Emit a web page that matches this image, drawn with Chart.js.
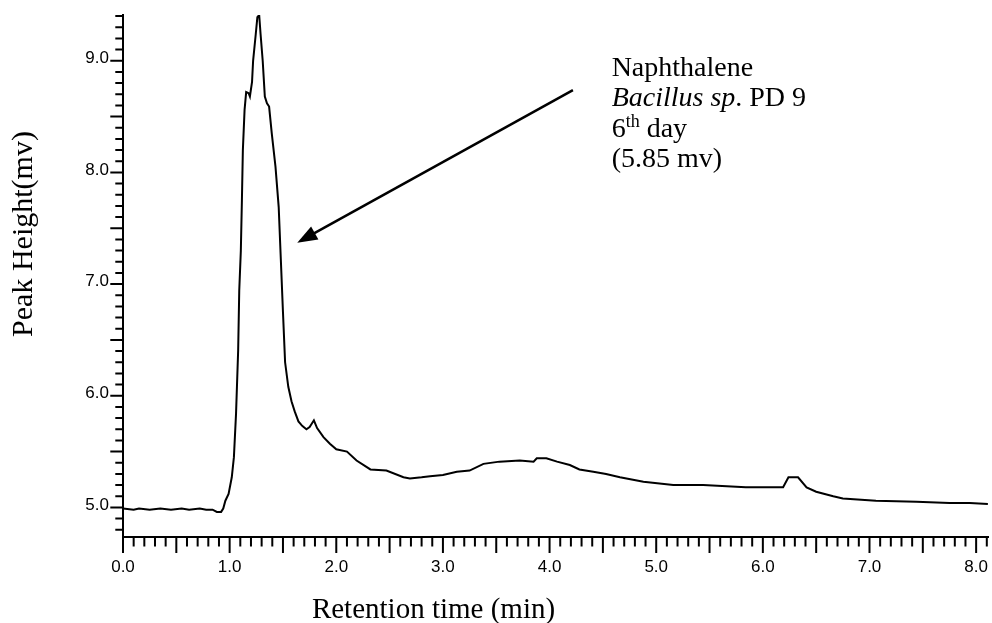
<!DOCTYPE html>
<html>
<head>
<meta charset="utf-8">
<script src="https://cdn.jsdelivr.net/npm/chart.js@4.4.1/dist/chart.umd.min.js"></script>
<style>
html,body{margin:0;padding:0;background:#fff;}
canvas{display:block;}
</style>
</head>
<body>
<canvas id="c" width="992" height="623"></canvas>
<script>
// ---- data ----
const retentionTime = [
  0.00, 0.10, 0.15, 0.25, 0.35, 0.45, 0.55, 0.62, 0.72, 0.78, 0.84, 0.88, 0.92, 0.94,
  0.96, 0.99, 1.02, 1.04, 1.06, 1.08, 1.09, 1.105, 1.115, 1.124, 1.14, 1.155, 1.178, 1.19,
  1.21, 1.22, 1.245, 1.26, 1.277, 1.29, 1.31, 1.33, 1.35, 1.37, 1.395, 1.43, 1.46, 1.48,
  1.50, 1.52, 1.55, 1.58, 1.61, 1.645, 1.68, 1.72, 1.75, 1.79, 1.82, 1.88, 1.94, 2.00,
  2.10, 2.19, 2.32, 2.47, 2.63, 2.69, 2.80, 2.88, 3.00, 3.13, 3.25, 3.38, 3.53, 3.72,
  3.85, 3.88, 3.97, 4.07, 4.19, 4.28, 4.41, 4.53, 4.66, 4.88, 5.16, 5.44, 5.84, 6.19,
  6.24, 6.33, 6.41, 6.50, 6.66, 6.75, 7.06, 7.44, 7.75, 7.94, 8.11
];
const peakHeight = [
  4.99, 4.98, 4.99, 4.98, 4.99, 4.98, 4.99, 4.98, 4.99, 4.98, 4.98, 4.96, 4.96, 4.99,
  5.06, 5.12, 5.27, 5.45, 5.84, 6.41, 6.94, 7.30, 7.75, 8.20, 8.56, 8.72, 8.71, 8.68,
  8.81, 9.00, 9.24, 9.39, 9.41, 9.24, 9.00, 8.68, 8.62, 8.59, 8.35, 8.05, 7.69, 7.22,
  6.75, 6.30, 6.08, 5.95, 5.86, 5.77, 5.73, 5.70, 5.72, 5.78, 5.71, 5.63, 5.57, 5.52,
  5.50, 5.42, 5.34, 5.33, 5.27, 5.26, 5.27, 5.28, 5.29, 5.32, 5.33, 5.39, 5.41, 5.42,
  5.41, 5.44, 5.44, 5.41, 5.38, 5.34, 5.32, 5.30, 5.27, 5.23, 5.20, 5.20, 5.18, 5.18,
  5.27, 5.27, 5.18, 5.14, 5.10, 5.08, 5.06, 5.05, 5.04, 5.04, 5.03
];
const xTickLabels = [0, 1, 2, 3, 4, 5, 6, 7, 8];
const yTickLabels = [5, 6, 7, 8, 9];
const xRange = [0, 8.12];
const yRange = [4.735, 9.41];
const xTitle = 'Retention time (min)';
const yTitle = 'Peak Height(mv)';
// annotation anchor points in data units
const arrowTail = [4.219, 8.738];
const arrowHead = [1.634, 7.371];
const noteAnchor = [4.582, 8.864];

// ---- plugins ----
const minorTicks = {
  id: 'minorTicks',
  afterDraw(chart) {
    const {ctx, chartArea, scales: {x, y}} = chart;
    ctx.save();
    ctx.strokeStyle = '#000';
    ctx.lineWidth = 2;
    ctx.beginPath();
    for (let i = 0; i <= 81; i++) {
      const v = i / 10;
      if (v > xRange[1]) break;
      const px = x.getPixelForValue(v);
      const len = (i % 5 === 0) ? 16 : 9.5;
      ctx.moveTo(px, chartArea.bottom);
      ctx.lineTo(px, chartArea.bottom + len);
    }
    for (let i = 48; i <= 94; i++) {
      const v = i / 10;
      const py = y.getPixelForValue(v);
      const len = (i % 5 === 0) ? 12.7 : 7.7;
      ctx.moveTo(chartArea.left, py);
      ctx.lineTo(chartArea.left - len, py);
    }
    ctx.stroke();
    ctx.restore();
  }
};

const annotations = {
  id: 'annotations',
  afterDraw(chart) {
    const {ctx, scales: {x, y}} = chart;
    ctx.save();
    // arrow
    const x1 = x.getPixelForValue(arrowTail[0]), y1 = y.getPixelForValue(arrowTail[1]);
    const x2 = x.getPixelForValue(arrowHead[0]), y2 = y.getPixelForValue(arrowHead[1]);
    const dx = x1 - x2, dy = y1 - y2, L = Math.hypot(dx, dy);
    const ux = dx / L, uy = dy / L, hl = 20, hw = 7.5;
    ctx.strokeStyle = '#000';
    ctx.fillStyle = '#000';
    ctx.lineWidth = 2.5;
    ctx.beginPath();
    ctx.moveTo(x1, y1);
    ctx.lineTo(x2 + ux * hl * 0.8, y2 + uy * hl * 0.8);
    ctx.stroke();
    ctx.beginPath();
    ctx.moveTo(x2, y2);
    ctx.lineTo(x2 + ux * hl - uy * hw, y2 + uy * hl + ux * hw);
    ctx.lineTo(x2 + ux * hl + uy * hw, y2 + uy * hl - ux * hw);
    ctx.closePath();
    ctx.fill();

    // note text
    const tx = x.getPixelForValue(noteAnchor[0]);
    let ty = y.getPixelForValue(noteAnchor[1]);
    const lh = 30.5;
    const serif = '"Liberation Serif", "Times New Roman", serif';
    ctx.textBaseline = 'alphabetic';
    ctx.textAlign = 'left';
    ctx.font = '28px ' + serif;
    ctx.fillText('Naphthalene', tx, ty);
    ty += lh;
    ctx.font = 'italic 28px ' + serif;
    ctx.fillText('Bacillus sp', tx, ty);
    let w = ctx.measureText('Bacillus sp').width;
    ctx.font = '28px ' + serif;
    ctx.fillText('. PD 9', tx + w, ty);
    ty += lh;
    ctx.fillText('6', tx, ty);
    w = ctx.measureText('6').width;
    ctx.font = '18px ' + serif;
    ctx.fillText('th', tx + w, ty - 10);
    const w2 = ctx.measureText('th').width;
    ctx.font = '28px ' + serif;
    ctx.fillText(' day', tx + w + w2, ty);
    ty += lh;
    ctx.fillText('(5.85 mv)', tx, ty);

    // axis titles
    ctx.font = '29px ' + serif;
    ctx.textAlign = 'center';
    ctx.fillText(xTitle, 433.5, 618);
    ctx.save();
    ctx.translate(32, 234);
    ctx.rotate(-Math.PI / 2);
    ctx.font = '30px ' + serif;
    ctx.fillText(yTitle, 0, 0);
    ctx.restore();
    ctx.restore();
  }
};

const tickFont = {family: '"Liberation Sans", Arial, sans-serif', size: 17};

new Chart(document.getElementById('c'), {
  type: 'line',
  data: {
    datasets: [{
      data: retentionTime.map((t, i) => ({x: t, y: peakHeight[i]})),
      borderColor: '#000',
      borderWidth: 2,
      pointRadius: 0,
      tension: 0,
      fill: false
    }]
  },
  options: {
    responsive: false,
    animation: false,
    devicePixelRatio: 1,
    layout: {padding: {top: 15, right: 3, left: 0, bottom: 0}},
    plugins: {legend: {display: false}, tooltip: {enabled: false}},
    scales: {
      x: {
        type: 'linear',
        min: xRange[0],
        max: xRange[1],
        afterBuildTicks: (axis) => { axis.ticks = xTickLabels.map(v => ({value: v})); },
        afterFit: (axis) => { axis.height = 86; },
        grid: {display: true, drawOnChartArea: false, drawTicks: true, tickLength: 16, tickColor: 'rgba(0,0,0,0)'},
        border: {display: true, color: '#000', width: 2},
        ticks: {
          color: '#000', font: tickFont, padding: 4, maxRotation: 0, autoSkip: false,
          callback: (v) => Number(v).toFixed(1)
        }
      },
      y: {
        type: 'linear',
        min: yRange[0],
        max: yRange[1],
        afterBuildTicks: (axis) => { axis.ticks = yTickLabels.map(v => ({value: v})); },
        afterFit: (axis) => { axis.width = 123; },
        grid: {display: true, drawOnChartArea: false, drawTicks: true, tickLength: 12, tickColor: 'rgba(0,0,0,0)'},
        border: {display: true, color: '#000', width: 2},
        ticks: {
          color: '#000', font: tickFont, padding: 2, labelOffset: -2.5, autoSkip: false,
          callback: (v) => Number(v).toFixed(1)
        }
      }
    }
  },
  plugins: [minorTicks, annotations]
});
</script>
</body>
</html>
